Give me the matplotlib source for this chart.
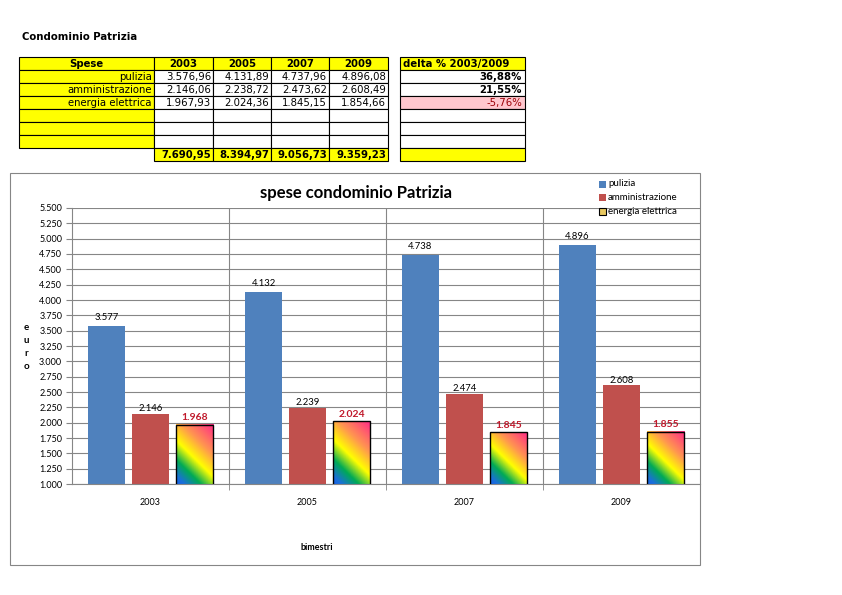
import numpy as np
import matplotlib
matplotlib.use('Agg')
import matplotlib.pyplot as plt
from matplotlib.patches import Rectangle
from matplotlib.colors import LinearSegmentedColormap

# data read from the sheet
years = ['2003', '2005', '2007', '2009']
voci = ['pulizia', 'amministrazione', 'energia elettrica']
pulizia = [3576.96, 4131.89, 4737.96, 4896.08]
amministrazione = [2146.06, 2238.72, 2473.62, 2608.49]
energia = [1967.93, 2024.36, 1845.15, 1854.66]
totali = [7690.95, 8394.97, 9056.73, 9359.23]
delta = [36.88, 21.55, -5.76]

W, H = 842, 595
fig = plt.figure(figsize=(W / 100, H / 100), dpi=100)


def fx(x):
    return x / W


def fy(y):
    return 1 - y / H


def fmt_it(v, dec=2):
    s = f'{v:,.{dec}f}'
    return s.replace(',', 'X').replace('.', ',').replace('X', '.')


def cell(x0, y0, x1, y1, fc='white', ec='black'):
    fig.patches.append(Rectangle((fx(x0), fy(y1)), fx(x1) - fx(x0), fy(y0) - fy(y1),
                                 transform=fig.transFigure, facecolor=fc,
                                 edgecolor=ec, lw=0.8, zorder=1))


tfont = dict(family='DejaVu Sans', fontsize=7.3, va='center')
yellow = '#FFFF00'

# ---- table ----
fig.text(fx(22), fy(37), 'Condominio Patrizia', fontweight='bold', **tfont)
cols = [19, 154, 213, 271, 329, 388]
rows = [57 + 13 * i for i in range(9)]
for r in range(8):
    y0, y1 = rows[r], rows[r + 1]
    yc = (y0 + y1) / 2 + 0.5
    # label column
    if r < 7:
        cell(cols[0], y0, cols[1], y1, fc=yellow)
    for c in range(4):
        fc = yellow if r in (0, 7) else 'white'
        cell(cols[c + 1], y0, cols[c + 2], y1, fc=fc)
    # delta table
    if r == 3:
        cell(400, y0, 525, y1, fc='#FFC7CE')
    else:
        cell(400, y0, 525, y1, fc=yellow if r in (0, 7) else 'white')

    if r == 0:
        fig.text(fx((cols[0] + cols[1]) / 2), fy(yc), 'Spese', ha='center', fontweight='bold', **tfont)
        for c, yr in enumerate(years):
            fig.text(fx((cols[c + 1] + cols[c + 2]) / 2), fy(yc), yr, ha='center',
                     fontweight='bold', **tfont)
        fig.text(fx(403), fy(yc), 'delta % 2003/2009', ha='left', fontweight='bold', **tfont)
    elif r <= 3:
        vals = [pulizia, amministrazione, energia][r - 1]
        fig.text(fx(cols[1] - 2), fy(yc), voci[r - 1], ha='right', **tfont)
        for c in range(4):
            fig.text(fx(cols[c + 2] - 2), fy(yc), fmt_it(vals[c]), ha='right', **tfont)
        d = delta[r - 1]
        if d < 0:
            fig.text(fx(522), fy(yc), fmt_it(d) + '%', ha='right', color='#9C0006', **tfont)
        else:
            fig.text(fx(522), fy(yc), fmt_it(d) + '%', ha='right', fontweight='bold', **tfont)
    elif r == 7:
        for c in range(4):
            fig.text(fx(cols[c + 2] - 2), fy(yc), fmt_it(totali[c]), ha='right',
                     fontweight='bold', **tfont)

# ---- chart area ----
cell(10, 173, 700, 565, fc='none', ec='#868686')

ax_l, ax_r, ax_t, ax_b = 72, 700, 208, 484
ax = fig.add_axes([fx(ax_l), fy(ax_b), fx(ax_r) - fx(ax_l), fy(ax_t) - fy(ax_b)])
cfont = 'Lato'
blue = '#4F81BD'
red = '#C0504D'
x = np.arange(len(years))
bw = 0.236
off = 0.28

ax.bar(x - off, pulizia, bw, color=blue, zorder=2)
ax.bar(x, amministrazione, bw, color=red, zorder=2)

grad = LinearSegmentedColormap.from_list('grad', [
    (0.0, '#1560E8'), (0.08, '#1A70D8'), (0.25, '#00AA55'), (0.45, '#FFFF00'),
    (0.68, '#FF9650'), (1.0, '#FF2A88')])
ymin, ymax = 1000, 5500
px_per_x = (ax_r - ax_l) / len(years)
px_per_y = (ax_b - ax_t) / (ymax - ymin)
for xi, v in zip(x + off, energia):
    # diagonal gradient at 45 degrees in pixel space
    wpx = bw * px_per_x
    hpx = (v - ymin) * px_per_y
    gx, gy = np.meshgrid(np.linspace(0, wpx, 60), np.linspace(0, hpx, 80))
    gimg = (gx + gy) / (wpx + hpx)
    ax.imshow(gimg, cmap=grad, origin='lower', aspect='auto', zorder=2, vmin=0, vmax=1,
              extent=(xi - bw / 2, xi + bw / 2, ymin, v), interpolation='bilinear')
ax.bar(x + off, energia, bw, facecolor='none', edgecolor='black', lw=1, zorder=3)

for xi, v in zip(x - off, pulizia):
    ax.text(xi, v + 60, fmt_it(v, 0), ha='center', va='bottom', fontsize=6.8,
            family=cfont)
for xi, v in zip(x, amministrazione):
    ax.text(xi, v + 10, fmt_it(v, 0), ha='center', va='bottom', fontsize=6.8,
            family=cfont)
for xi, v in zip(x + off, energia):
    ax.text(xi, v + 40, fmt_it(v, 0), ha='center', va='bottom', fontsize=7.5,
            color='#C0192B', fontweight='bold', family=cfont)

ax.set_xlim(-0.5, len(years) - 0.5)
ax.set_ylim(ymin, ymax)
ax.set_yticks(np.arange(ymin, ymax + 1, 250))
ax.set_yticklabels([fmt_it(t, 0) for t in np.arange(ymin, ymax + 1, 250)],
                   fontsize=6.5, family=cfont)
ax.set_xticks(x)
ax.set_xticklabels(years, fontsize=6.5, family=cfont)
ax.set_xticks(np.arange(0.5, len(years) - 0.5, 1), minor=True)
ax.tick_params(axis='x', which='major', length=0, pad=10)
ax.tick_params(axis='x', which='minor', length=4, color='#868686')
ax.tick_params(axis='y', length=4, color='#868686', pad=3)
ax.grid(axis='y', color='#868686', lw=0.8, zorder=0)
ax.grid(axis='x', which='minor', color='#868686', lw=0.8, zorder=0)
ax.set_axisbelow(True)
for s in ['top', 'right']:
    ax.spines[s].set_visible(False)
for s in ['left', 'bottom']:
    ax.spines[s].set_color('#868686')

fig.text(fx(356), fy(193), 'spese condominio Patrizia', ha='center', va='center',
         fontsize=12, fontweight='bold', family=cfont)
fig.text(fx(26), fy(347), 'e\nu\nr\no', ha='center', va='center', fontsize=7,
         fontweight='bold', family=cfont, linespacing=1.55)
fig.text(fx(317), fy(547), 'bimestri', ha='center', va='center', fontsize=6.5,
         fontweight='bold', family=cfont)

# legend
leg = [(blue, 'none', 'pulizia'), (red, 'none', 'amministrazione'),
       ('#E8C860', 'black', 'energia elettrica')]
for i, (fc, ec, lab) in enumerate(leg):
    yc = 184 + 13.5 * i
    cell(599, yc - 3.5, 606, yc + 3.5, fc=fc, ec=ec)
    fig.text(fx(608), fy(yc), lab, ha='left', va='center', fontsize=7, family=cfont)

plt.savefig('out.png', dpi=100)
